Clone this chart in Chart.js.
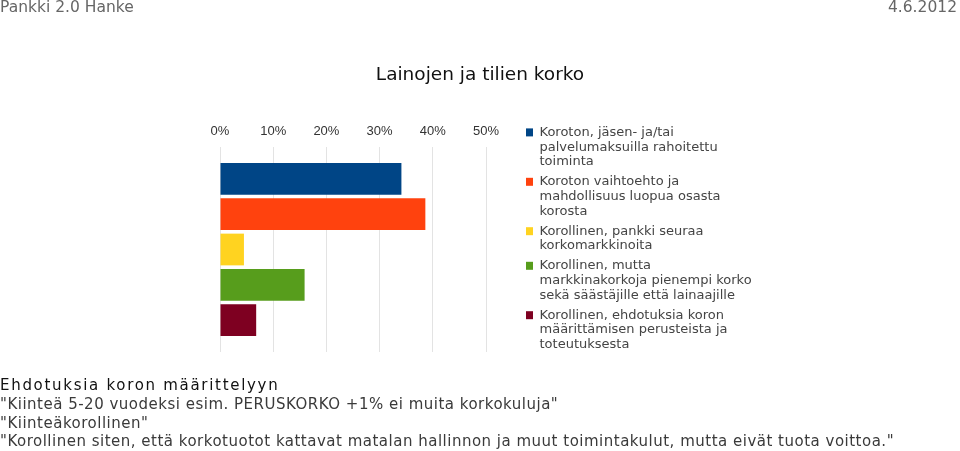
<!DOCTYPE html>
<html lang="fi">
<head>
  <meta charset="UTF-8" />
  <title>Lainojen ja tilien korko</title>
  <script src="https://cdn.jsdelivr.net/npm/chart.js@4"></script>
  <style>
    * {
      box-sizing: border-box;
      margin: 0;
      padding: 0;
    }

    body {
      width: 960px;
      height: 451px;
      position: relative;
      background: #fff;
      font-family: "DejaVu Sans", sans-serif;
      overflow: hidden;
    }

    #grafiikka {
      position: absolute;
      left: 0;
      top: 0;
    }

    .yla {
      position: absolute;
      top: -2px;
      font-size: 15.5px;
      color: #666;
      white-space: nowrap;
    }

    .ala {
      position: absolute;
      left: 0;
      top: 375px;
      font-size: 15px;
      line-height: 18.5px;
      letter-spacing: 0.5px;
      color: #3a3a3a;
      white-space: nowrap;
    }

    .ala h4 {
      font-weight: normal;
      color: #111;
      letter-spacing: 1.7px;
      line-height: 20px;
    }
  </style>
</head>
<body>
  <canvas id="grafiikka" width="960" height="451"></canvas>

  <div class="yla" style="left: 0">Pankki 2.0 Hanke</div>
  <div class="yla" style="right: 3px">4.6.2012</div>

  <div class="ala">
    <h4>Ehdotuksia koron määrittelyyn</h4>
    <div>"Kiinteä 5-20 vuodeksi esim. PERUSKORKO +1% ei muita korkokuluja"</div>
    <div>"Kiinteäkorollinen"</div>
    <div>"Korollinen siten, että korkotuotot kattavat matalan hallinnon ja muut toimintakulut, mutta eivät tuota voittoa."</div>
  </div>

<script>
  // vastausten osuudet (%)
  const kategoriat = [""];
  const vaihtoehdot = [
    ["Koroton, jäsen- ja/tai", "palvelumaksuilla rahoitettu", "toiminta"],
    ["Koroton vaihtoehto ja", "mahdollisuus luopua osasta", "korosta"],
    ["Korollinen, pankki seuraa", "korkomarkkinoita"],
    ["Korollinen, mutta", "markkinakorkoja pienempi korko", "sekä säästäjille että lainaajille"],
    ["Korollinen, ehdotuksia koron", "määrittämisen perusteista ja", "toteutuksesta"]
  ];
  const osuudet = [34.1, 38.6, 4.5, 15.9, 6.8];
  const varit = ["#004586", "#ff420e", "#ffd320", "#579d1c", "#7e0021"];
  const akseliTikit = [0, 10, 20, 30, 40, 50];

  const datasets = vaihtoehdot.map((rivit, i) => ({
    label: rivit.join(" "),
    data: [osuudet[i]],
    backgroundColor: varit[i],
    borderWidth: 0,
    categoryPercentage: 0.86,
    barPercentage: 0.9,
  }));

  // legenda mitoittaa leveyden merkkimäärän mukaan, joten pisin rivi leikkautuisi
  const legendanLeveys = {
    id: "legendanLeveys",
    afterInit(chart) {
      const legenda = chart.legend;
      const fit = legenda.fit;
      legenda.fit = function () {
        fit.call(this);
        this.width = 241;
      };
    },
  };

  new Chart(document.getElementById("grafiikka"), {
    type: "bar",
    data: {
      labels: kategoriat,
      datasets: datasets,
    },
    plugins: [legendanLeveys],
    options: {
      indexAxis: "y",
      responsive: false,
      animation: false,
      layout: {
        padding: { top: 28, bottom: 0, left: 198, right: 198 },
      },
      plugins: {
        tooltip: { enabled: false },
        title: {
          display: true,
          text: "Lainojen ja tilien korko",
          color: "#111",
          font: { family: "DejaVu Sans", size: 18.5, weight: "normal" },
          padding: { top: 36, bottom: 28.8 },
        },
        legend: {
          position: "right",
          align: "center",
          labels: {
            boxWidth: 7,
            boxHeight: 8,
            padding: 5,
            color: "#444",
            font: { family: "DejaVu Sans", size: 13, lineHeight: "14.8px" },
            generateLabels: function (chart) {
              const oletus = Chart.defaults.plugins.legend.labels.generateLabels(chart);
              return oletus.map((item, i) => {
                item.text = vaihtoehdot[i];
                return item;
              });
            },
          },
        },
      },
      scales: {
        x: {
          position: "top",
          min: 0,
          max: 50,
          afterBuildTicks: (scale) => {
            scale.ticks = akseliTikit.map((v) => ({ value: v }));
          },
          ticks: {
            padding: 8.2,
            color: "#333",
            font: { family: "Liberation Sans", size: 13 },
            callback: (v) => v + "%",
          },
          grid: { color: "#e3e3e3", drawTicks: false },
          border: { display: false },
        },
        // tyhjät akselit vain tilanvaraukseen
        x2: {
          position: "bottom",
          display: true,
          ticks: { display: false },
          grid: { display: false },
          border: { display: false },
          afterFit: (scale) => { scale.height = 99; },
        },
        y: {
          position: "left",
          ticks: { display: false },
          grid: { display: false },
          border: { display: false },
          afterFit: (scale) => { scale.width = 22; },
        },
        y2: {
          position: "right",
          ticks: { display: false },
          grid: { display: false },
          border: { display: false },
          afterFit: (scale) => { scale.width = 35; },
        },
      },
    },
  });
</script>
</body>
</html>
